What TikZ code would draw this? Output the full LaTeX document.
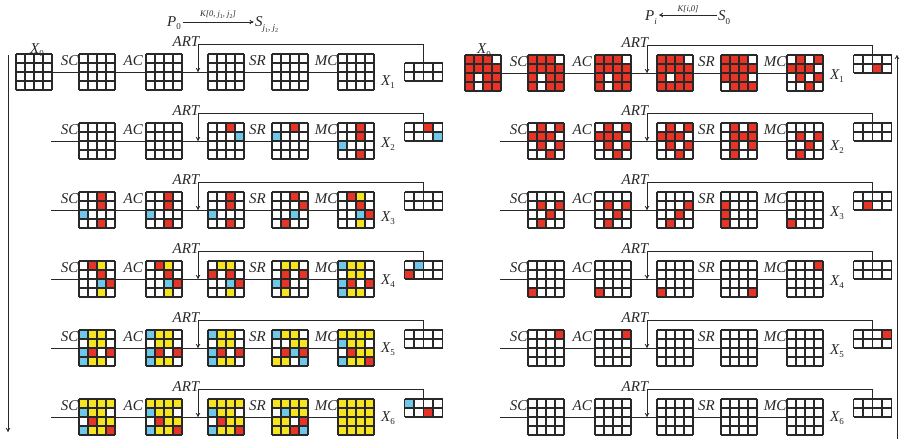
\documentclass[tikz,border=0pt]{standalone}
\usepackage{fontspec}
\setmainfont{Liberation Serif}
\usetikzlibrary{arrows.meta}
\definecolor{colW}{RGB}{255,255,255}
\definecolor{colR}{RGB}{232,52,38}
\definecolor{colB}{RGB}{112,200,232}
\definecolor{colY}{RGB}{246,228,30}
\definecolor{ink}{RGB}{40,40,40}
\tikzset{
 gridline/.style={draw=ink, line width=1.05pt},
 gridbox/.style={inner sep=0pt, outer sep=0pt, minimum width=36pt, minimum height=36pt},
 keybox/.style={inner sep=0pt, outer sep=0pt, minimum width=38pt, minimum height=18pt},
 conn/.style={draw=ink, line width=0.8pt},
 arr/.style={-{To[length=4pt,width=4.5pt]}},
 lab/.style={font=\fontsize{15}{15}\selectfont\itshape, inner sep=0pt, text=ink},
 klab/.style={font=\fontsize{8.5}{8.5}\selectfont\itshape, inner sep=0pt, text=ink},
}
\newcommand\sbx[1]{\raisebox{-3.5pt}{\fontsize{9}{9}\selectfont\upshape #1}}
\newcommand\sbi[1]{\raisebox{-3.5pt}{\fontsize{9}{9}\selectfont\itshape #1}}
\newcommand\sbz[1]{\raisebox{-1.5pt}{\fontsize{6}{6}\selectfont\upshape #1}}
\newcommand\cellgrid[4]{%
  \foreach \cc [count=\i from 0] in {#4}{%
    \pgfmathtruncatemacro\cgr{\i/4}%
    \pgfmathtruncatemacro\cgc{\i-4*\cgr}%
    \fill[fill=col\cc] ({#2+9*\cgc},{#3+9*\cgr}) rectangle ++(9,9);
  }%
  \foreach \k in {0,9,18,27,36}{%
    \draw[gridline] ({#2+\k},#3) -- ++(0,36);
    \draw[gridline] (#2,{#3+\k}) -- ++(36,0);
  }%
  \node[gridbox] (#1) at ({#2+18},{#3+18}) {};
}
\newcommand\keygrid[4]{%
  \foreach \cc [count=\i from 0] in {#4}{%
    \pgfmathtruncatemacro\cgr{\i/4}%
    \pgfmathtruncatemacro\cgc{\i-4*\cgr}%
    \fill[fill=col\cc] ({#2+9.5*\cgc},{#3+9*\cgr}) rectangle ++(9.5,9);
  }%
  \foreach \k in {0,9.5,19,28.5,38}{\draw[gridline] ({#2+\k},#3) -- ++(0,18);}%
  \foreach \k in {0,9,18}{\draw[gridline] (#2,{#3+\k}) -- ++(38,0);}%
  \node[keybox] (#1) at ({#2+19},{#3+9}) {};
}
\newcommand\stageframe[5]{%
  \coordinate (#1-T) at ({#2+198},{#3-10});
  \coordinate (#1-A) at ({#2+198},{#3+18});
  \draw[conn] (#1-1) -- (#1-2);
  \draw[conn] (#1-2) -- (#1-3);
  \draw[conn] (#1-3) -- (#1-4);
  \draw[conn] (#1-4) -- (#1-5);
  \draw[conn] (#1-5) -- (#1-6);
  \draw[conn,arr] (#1-k.north) |- (#1-T) -- (#1-A);
  \node[lab,anchor=base east] (#1-sc) at ({#2+78.5},{#3+11}) {SC};
  \node[lab,anchor=base east] (#1-ac) at ({#2+143},{#3+11}) {AC};
  \node[lab,anchor=base west] (#1-sr) at ({#2+249},{#3+11}) {SR};
  \node[lab,anchor=base east] (#1-mc) at ({#2+337.5},{#3+11}) {MC};
  \node[lab,anchor=base east] (#1-art) at ({#2+199.5},{#3-7.5}) {ART};
  \node[lab,anchor=base west] (#1-x) at ({#2+381},{#3+#5}) {X\sbx{#4}};
}
\begin{document}
\begin{tikzpicture}[x=1pt,y=-1pt]
\useasboundingbox[fill=white] (0,0) rectangle (906,439);
% ---------------- headers
\node[lab,anchor=base west] (P0) at (167,26.5) {P\sbx{0}};
\node[lab,anchor=base west] (Sj) at (255,26.5) {S\raisebox{-4.5pt}{\fontsize{9}{9}\selectfont\itshape j\sbz{1}, j\sbz{2}}};
\coordinate (hL) at (0,22);
\draw[conn,arr] ([xshift=1.5pt]P0.east |- hL) -- ([xshift=-1.5pt]Sj.west |- hL) node[klab,midway,above=3pt] (KL) {K[0, j\sbz{1}, j\sbz{2}]};
\node[lab,anchor=base west] (Pi) at (645,20.5) {P\sbi{i}};
\node[lab,anchor=base west] (S0) at (718,20.5) {S\sbx{0}};
\coordinate (hR) at (0,15);
\draw[conn,arr] ([xshift=-1pt]S0.west |- hR) -- ([xshift=2pt]Pi.east |- hR) node[klab,midway,above=2pt] (KR) {K[i,0]};
% ---------------- vertical arrows
\coordinate (VLt) at (8,55); \coordinate (VLb) at (8,432);
\draw[conn,arr] (VLt) -- (VLb);
\coordinate (VRb) at (897,439); \coordinate (VRt) at (897,55);
\draw[conn,arr] (VRb) -- (VRt);
% ================= LEFT PANEL
% row 1
\cellgrid{L1-1}{16}{54}{W,W,W,W,W,W,W,W,W,W,W,W,W,W,W,W}
\cellgrid{L1-2}{79}{54}{W,W,W,W,W,W,W,W,W,W,W,W,W,W,W,W}
\cellgrid{L1-3}{146}{54}{W,W,W,W,W,W,W,W,W,W,W,W,W,W,W,W}
\cellgrid{L1-4}{208}{54}{W,W,W,W,W,W,W,W,W,W,W,W,W,W,W,W}
\cellgrid{L1-5}{272}{54}{W,W,W,W,W,W,W,W,W,W,W,W,W,W,W,W}
\cellgrid{L1-6}{338}{54}{W,W,W,W,W,W,W,W,W,W,W,W,W,W,W,W}
\keygrid{L1-k}{404.5}{63}{W,W,W,W,W,W,W,W}
\stageframe{L1}{0}{54}{1}{31}
\node[lab,anchor=base west] (LX0) at (30,53) {X\sbx{0}};
% row 2
\coordinate (L2-1) at (51,141);
\cellgrid{L2-2}{79}{123}{W,W,W,W,W,W,W,W,W,W,W,W,W,W,W,W}
\cellgrid{L2-3}{146}{123}{W,W,W,W,W,W,W,W,W,W,W,W,W,W,W,W}
\cellgrid{L2-4}{208}{123}{W,W,R,W,W,W,W,B,W,W,W,W,W,W,W,W}
\cellgrid{L2-5}{272}{123}{W,W,R,W,B,W,W,W,W,W,W,W,W,W,W,W}
\cellgrid{L2-6}{338}{123}{W,W,R,W,W,W,R,W,B,W,W,W,W,W,R,W}
\keygrid{L2-k}{404.5}{123}{W,W,R,W,W,W,W,B}
\stageframe{L2}{0}{123}{2}{24}
% row 3
\coordinate (L3-1) at (51,210);
\cellgrid{L3-2}{79}{192}{W,W,R,W,W,W,R,W,B,W,W,W,W,W,R,W}
\cellgrid{L3-3}{146}{192}{W,W,R,W,W,W,R,W,B,W,W,W,W,W,R,W}
\cellgrid{L3-4}{208}{192}{W,W,R,W,W,W,R,W,B,W,W,W,W,W,R,W}
\cellgrid{L3-5}{272}{192}{W,W,R,W,W,W,W,R,W,W,B,W,W,R,W,W}
\cellgrid{L3-6}{338}{192}{W,R,Y,W,W,W,R,W,W,W,B,R,W,W,Y,W}
\keygrid{L3-k}{404.5}{192}{W,W,W,W,W,W,W,W}
\stageframe{L3}{0}{192}{3}{29}
% row 4
\coordinate (L4-1) at (51,279);
\cellgrid{L4-2}{79}{261}{W,R,Y,W,W,W,R,W,W,W,B,R,W,W,Y,W}
\cellgrid{L4-3}{146}{261}{W,R,Y,W,W,W,R,W,W,W,B,R,W,W,Y,W}
\cellgrid{L4-4}{208}{261}{W,Y,Y,W,R,W,R,W,W,W,B,R,W,W,Y,W}
\cellgrid{L4-5}{272}{261}{W,Y,Y,W,W,R,W,R,B,R,W,W,W,Y,W,W}
\cellgrid{L4-6}{338}{261}{B,Y,Y,W,W,Y,Y,W,B,R,W,R,B,Y,Y,W}
\keygrid{L4-k}{404.5}{261}{W,B,W,W,R,W,W,W}
\stageframe{L4}{0}{261}{4}{23}
% row 5
\coordinate (L5-1) at (51,348);
\cellgrid{L5-2}{79}{330}{B,Y,Y,W,W,Y,Y,W,B,R,W,R,B,Y,Y,W}
\cellgrid{L5-3}{146}{330}{B,Y,Y,W,W,Y,Y,W,B,R,W,R,B,Y,Y,W}
\cellgrid{L5-4}{208}{330}{B,Y,Y,W,W,Y,Y,W,B,R,W,R,B,Y,Y,W}
\cellgrid{L5-5}{272}{330}{B,Y,Y,W,W,W,Y,Y,W,R,B,R,Y,Y,W,B}
\cellgrid{L5-6}{338}{330}{Y,Y,Y,Y,B,Y,Y,W,W,R,Y,Y,B,Y,Y,R}
\keygrid{L5-k}{404.5}{330}{W,W,W,W,W,W,W,W}
\stageframe{L5}{0}{330}{5}{22}
% row 6
\coordinate (L6-1) at (51,417);
\cellgrid{L6-2}{79}{399}{Y,Y,Y,Y,B,Y,Y,W,W,R,Y,Y,B,Y,Y,R}
\cellgrid{L6-3}{146}{399}{Y,Y,Y,Y,B,Y,Y,W,W,R,Y,Y,B,Y,Y,R}
\cellgrid{L6-4}{208}{399}{Y,Y,Y,Y,B,Y,Y,W,W,R,Y,Y,B,Y,Y,R}
\cellgrid{L6-5}{272}{399}{Y,Y,Y,Y,W,B,Y,Y,Y,Y,W,R,Y,Y,R,B}
\cellgrid{L6-6}{338}{399}{Y,Y,Y,Y,Y,Y,Y,Y,Y,Y,Y,Y,Y,Y,Y,Y}
\keygrid{L6-k}{404.5}{399}{B,W,W,W,W,W,R,W}
\stageframe{L6}{0}{399}{6}{22}
% ================= RIGHT PANEL
% row 1
\cellgrid{R1-1}{465}{55}{R,R,R,W,R,R,R,R,R,W,R,R,R,W,R,R}
\cellgrid{R1-2}{528}{55}{R,R,R,W,R,R,R,R,R,W,R,R,R,W,R,R}
\cellgrid{R1-3}{595}{55}{R,R,R,W,R,R,R,R,R,W,R,R,R,W,R,R}
\cellgrid{R1-4}{657}{55}{R,R,R,W,R,R,R,R,R,W,R,R,R,R,R,R}
\cellgrid{R1-5}{721}{55}{R,R,R,W,R,R,R,R,R,R,R,W,W,R,R,R}
\cellgrid{R1-6}{787}{55}{W,R,W,R,R,R,R,W,W,R,W,R,W,W,R,W}
\keygrid{R1-k}{853.5}{55}{W,W,W,W,W,W,R,W}
\stageframe{R1}{449}{55}{1}{24}
\node[lab,anchor=base west] (RX0) at (477,53.5) {X\sbx{0}};
% row 2
\coordinate (R2-1) at (500,141);
\cellgrid{R2-2}{528}{123}{W,R,W,R,R,R,R,W,W,R,W,R,W,W,R,W}
\cellgrid{R2-3}{595}{123}{W,R,W,R,R,R,R,W,W,R,W,R,W,W,R,W}
\cellgrid{R2-4}{657}{123}{W,R,W,R,R,R,R,W,W,R,W,R,W,W,R,W}
\cellgrid{R2-5}{721}{123}{W,R,W,R,W,R,R,R,W,R,W,R,W,R,W,W}
\cellgrid{R2-6}{787}{123}{W,W,W,W,W,R,W,R,W,W,R,W,W,R,W,W}
\keygrid{R2-k}{853.5}{123}{W,W,W,W,W,W,W,W}
\stageframe{R2}{449}{123}{2}{27}
% row 3
\coordinate (R3-1) at (500,210);
\cellgrid{R3-2}{528}{192}{W,W,W,W,W,R,W,R,W,W,R,W,W,R,W,W}
\cellgrid{R3-3}{595}{192}{W,W,W,W,W,R,W,R,W,W,R,W,W,R,W,W}
\cellgrid{R3-4}{657}{192}{W,W,W,W,W,W,W,R,W,W,R,W,W,R,W,W}
\cellgrid{R3-5}{721}{192}{W,W,W,W,R,W,W,W,R,W,W,W,R,W,W,W}
\cellgrid{R3-6}{787}{192}{W,W,W,W,W,W,W,W,W,W,W,W,R,W,W,W}
\keygrid{R3-k}{853.5}{192}{W,W,W,W,W,R,W,W}
\stageframe{R3}{449}{192}{3}{24}
% row 4
\coordinate (R4-1) at (500,279);
\cellgrid{R4-2}{528}{261}{W,W,W,W,W,W,W,W,W,W,W,W,R,W,W,W}
\cellgrid{R4-3}{595}{261}{W,W,W,W,W,W,W,W,W,W,W,W,R,W,W,W}
\cellgrid{R4-4}{657}{261}{W,W,W,W,W,W,W,W,W,W,W,W,R,W,W,W}
\cellgrid{R4-5}{721}{261}{W,W,W,W,W,W,W,W,W,W,W,W,W,W,W,R}
\cellgrid{R4-6}{787}{261}{W,W,W,R,W,W,W,W,W,W,W,W,W,W,W,W}
\keygrid{R4-k}{853.5}{261}{W,W,W,W,W,W,W,W}
\stageframe{R4}{449}{261}{4}{24}
% row 5
\coordinate (R5-1) at (500,348);
\cellgrid{R5-2}{528}{330}{W,W,W,R,W,W,W,W,W,W,W,W,W,W,W,W}
\cellgrid{R5-3}{595}{330}{W,W,W,R,W,W,W,W,W,W,W,W,W,W,W,W}
\cellgrid{R5-4}{657}{330}{W,W,W,W,W,W,W,W,W,W,W,W,W,W,W,W}
\cellgrid{R5-5}{721}{330}{W,W,W,W,W,W,W,W,W,W,W,W,W,W,W,W}
\cellgrid{R5-6}{787}{330}{W,W,W,W,W,W,W,W,W,W,W,W,W,W,W,W}
\keygrid{R5-k}{853.5}{330}{W,W,W,R,W,W,W,W}
\stageframe{R5}{449}{330}{5}{24}
% row 6
\coordinate (R6-1) at (500,417);
\cellgrid{R6-2}{528}{399}{W,W,W,W,W,W,W,W,W,W,W,W,W,W,W,W}
\cellgrid{R6-3}{595}{399}{W,W,W,W,W,W,W,W,W,W,W,W,W,W,W,W}
\cellgrid{R6-4}{657}{399}{W,W,W,W,W,W,W,W,W,W,W,W,W,W,W,W}
\cellgrid{R6-5}{721}{399}{W,W,W,W,W,W,W,W,W,W,W,W,W,W,W,W}
\cellgrid{R6-6}{787}{399}{W,W,W,W,W,W,W,W,W,W,W,W,W,W,W,W}
\keygrid{R6-k}{853.5}{399}{W,W,W,W,W,W,W,W}
\stageframe{R6}{449}{399}{6}{22}
\end{tikzpicture}
\end{document}
